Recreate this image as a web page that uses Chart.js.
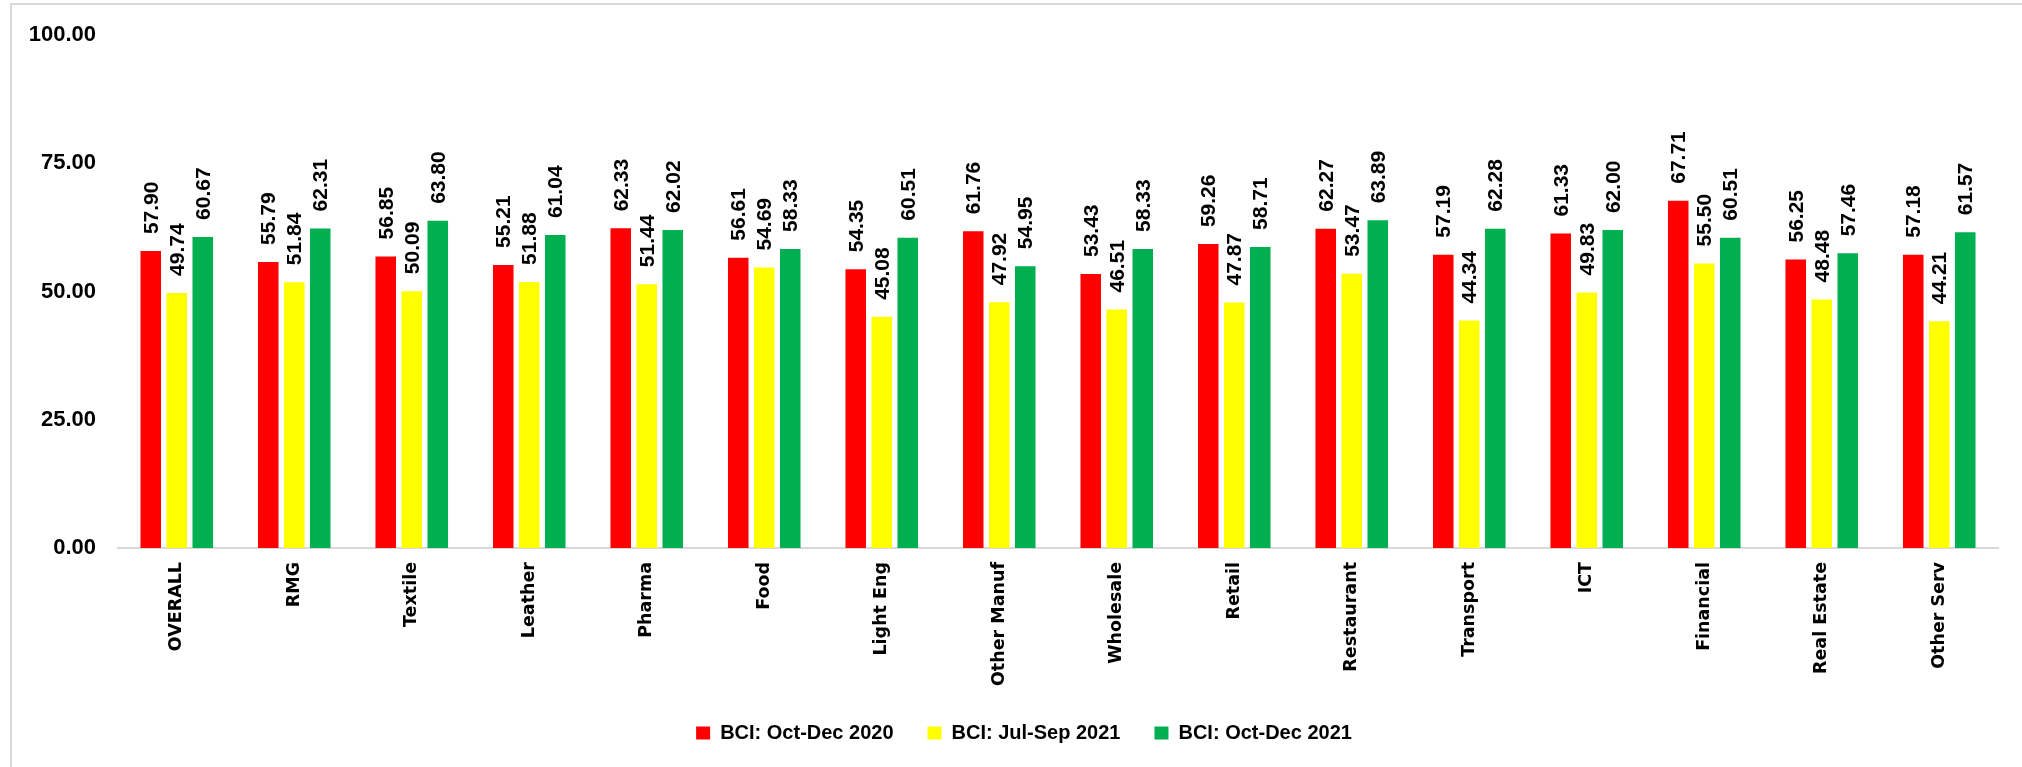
<!DOCTYPE html>
<html>
<head>
<meta charset="utf-8">
<script src="https://cdn.jsdelivr.net/npm/chart.js@4/dist/chart.umd.min.js"></script>
<style>
  html, body { margin: 0; padding: 0; background: #fff; }
  #wrap { position: relative; width: 2022px; height: 767px; }
</style>
</head>
<body>
<div id="wrap"><canvas id="bciChart"></canvas></div>
<script>
// sectors on the x axis
const sectors = ["OVERALL", "RMG", "Textile", "Leather", "Pharma", "Food", "Light Eng", "Other Manuf",
  "Wholesale", "Retail", "Restaurant", "Transport", "ICT", "Financial", "Real Estate", "Other Serv"];

// BCI values per quarter
const octDec2020 = [57.90, 55.79, 56.85, 55.21, 62.33, 56.61, 54.35, 61.76, 53.43, 59.26, 62.27, 57.19, 61.33, 67.71, 56.25, 57.18];
const julSep2021 = [49.74, 51.84, 50.09, 51.88, 51.44, 54.69, 45.08, 47.92, 46.51, 47.87, 53.47, 44.34, 49.83, 55.50, 48.48, 44.21];
const octDec2021 = [60.67, 62.31, 63.80, 61.04, 62.02, 58.33, 60.51, 54.95, 58.33, 58.71, 63.89, 62.28, 62.00, 60.51, 57.46, 61.57];

const seriesNames = ["BCI: Oct-Dec 2020", "BCI: Jul-Sep 2021", "BCI: Oct-Dec 2021"];
const yTicks = [0, 25, 50, 75, 100];

// value labels above the bars, rotated
const barLabels = {
  id: "barLabels",
  afterDatasetsDraw(chart) {
    const ctx = chart.ctx;
    ctx.save();
    ctx.font = "bold 21px 'Liberation Sans', Arial, sans-serif";
    ctx.fillStyle = "#000";
    ctx.textAlign = "left";
    ctx.textBaseline = "middle";
    chart.data.datasets.forEach((ds, i) => {
      chart.getDatasetMeta(i).data.forEach((bar, j) => {
        ctx.save();
        ctx.translate(bar.x + 1, bar.y - 17);
        ctx.rotate(-Math.PI / 2);
        ctx.fillText(ds.data[j].toFixed(2), 0, 0);
        ctx.restore();
      });
    });
    ctx.restore();
  }
};

// chart frame like the spreadsheet, legend nudged right a bit
const frame = {
  id: "frame",
  afterLayout(chart) {
    const l = chart.legend;
    const dx = 1024 - (l.left + l.right) / 2;
    l.left += dx;
    l.right += dx;
  },
  beforeDraw(chart) {
    const ctx = chart.ctx;
    ctx.save();
    ctx.strokeStyle = "#d9d9d9";
    ctx.lineWidth = 2;
    ctx.beginPath();
    ctx.moveTo(11, chart.height);
    ctx.lineTo(11, 4);
    ctx.lineTo(chart.width, 4);
    ctx.stroke();
    ctx.restore();
  }
};

const colors = ["#ff0000", "#ffff00", "#00b050"];
const values = [octDec2020, julSep2021, octDec2021];

new Chart(document.getElementById("bciChart"), {
  type: "bar",
  data: {
    labels: sectors,
    datasets: values.map((v, i) => ({
      label: seriesNames[i],
      data: v,
      backgroundColor: colors[i],
      categoryPercentage: 0.664,
      barPercentage: 0.79
    }))
  },
  options: {
    responsive: true,
    maintainAspectRatio: false,
    animation: false,
    layout: { padding: { left: 12, right: 24, top: 34, bottom: 14 } },
    plugins: {
      legend: {
        position: "bottom",
        labels: {
          boxWidth: 14,
          boxHeight: 13,
          padding: 34,
          color: "#000",
          font: { family: "'Liberation Sans', Arial, sans-serif", size: 20, weight: "bold" }
        }
      },
      tooltip: { enabled: false },
      title: { display: false }
    },
    scales: {
      x: {
        grid: { display: false, drawTicks: false },
        border: { color: "#d9d9d9", width: 2 },
        ticks: {
          color: "#000",
          maxRotation: 90,
          minRotation: 90,
          padding: 14,
          autoSkip: false,
          font: { family: "'DejaVu Sans', sans-serif", size: 17.5, weight: "bold" }
        },
        afterFit(scale) { scale.height = 141; }
      },
      y: {
        min: 0,
        max: 100,
        afterBuildTicks(scale) { scale.ticks = yTicks.map(v => ({ value: v })); },
        grid: { display: false, drawTicks: false },
        border: { display: false },
        ticks: {
          color: "#000",
          padding: 22,
          font: { family: "'Liberation Sans', Arial, sans-serif", size: 22, weight: "bold" },
          callback: (v) => Number(v).toFixed(2)
        },
        afterFit(scale) { scale.width = 106; }
      }
    }
  },
  plugins: [barLabels, frame]
});
</script>
</body>
</html>
